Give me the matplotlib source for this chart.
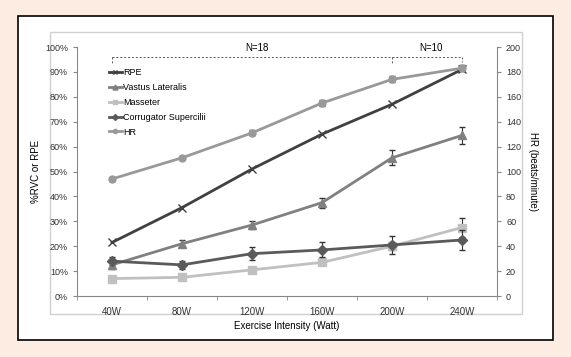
import numpy as np
import matplotlib.pyplot as plt
from matplotlib.patches import Rectangle
from matplotlib.lines import Line2D

plt.rcParams['font.family'] = ['Liberation Sans', 'DejaVu Sans']

# Data
watts = ['40W', '80W', '120W', '160W', '200W', '240W']
rpe = [21.5, 35.5, 51, 65, 77, 91]
vastus = [12.5, 21, 28.5, 37.5, 55.5, 64.5]
vastus_err = [1.5, 1.5, 1.5, 2, 3, 3.5]
masseter = [7, 7.5, 10.5, 13.5, 20, 27.5]
masseter_err = [0.5, 0.5, 0.5, 1, 1.5, 4]
corrugator = [14, 12.5, 17, 18.5, 20.5, 22.5]
corrugator_err = [1.5, 1.5, 2.5, 3, 3.5, 4]
hr = [94, 111, 131, 155, 174, 183]
hr_err = [1.5, 1.5, 2, 2.5, 2.5, 2.5]

x = np.arange(len(watts))

fig = plt.figure(figsize=(5.71, 3.57), dpi=100)
fig.patch.set_facecolor('#fdece2')

# white panel with black frame, and gray chart-area border
W, H = 571, 357
fig.add_artist(Rectangle((18 / W, 1 - 340 / H), 535 / W, 324 / H, transform=fig.transFigure,
                         facecolor='white', edgecolor='black', lw=1.2, zorder=-5))
fig.add_artist(Rectangle((50 / W, 1 - 314 / H), 472 / W, 282 / H, transform=fig.transFigure,
                         facecolor='none', edgecolor='#d0d0d0', lw=1, zorder=-4))

ax = fig.add_axes([77 / W, 1 - 296 / H, 420 / W, 249 / H])
ax.set_facecolor('none')
ax2 = ax.twinx()

lw = 2
styles = [
    ('RPE', '#404040', 'x', 6),
    ('Vastus Lateralis', '#808080', '^', 6),
    ('Masseter', '#c0c0c0', 's', 6),
    ('Corrugator Supercilii', '#5a5a5a', 'D', 5),
    ('HR', '#999999', 'o', 5),
]
eb = dict(ecolor='#333333', elinewidth=0.8, capsize=2)

ax.plot(x, rpe, color=styles[0][1], lw=lw, marker='x', ms=6, mew=1, zorder=5)
ax.errorbar(x, vastus, yerr=vastus_err, color=styles[1][1], lw=lw, marker='^', ms=6, zorder=4, **eb)
ax.errorbar(x, masseter, yerr=masseter_err, color=styles[2][1], lw=lw, marker='s', ms=6, zorder=3, **eb)
ax.errorbar(x, corrugator, yerr=corrugator_err, color=styles[3][1], lw=lw, marker='D', ms=5, zorder=4, **eb)
ax2.errorbar(x, hr, yerr=hr_err, color=styles[4][1], lw=lw, marker='o', ms=5, **eb)

ax.set_xlim(-0.5, 5.5)
ax.set_ylim(0, 100)
ax2.set_ylim(0, 200)
ax.set_yticks(np.arange(0, 101, 10))
ax.set_yticklabels([f'{v}%' for v in range(0, 101, 10)])
ax2.set_yticks(np.arange(0, 201, 20))
ax.set_xticks(x)
ax.set_xticklabels(watts)
ax.set_xticks(np.arange(-0.5, 5.6, 1), minor=True)
ax.tick_params(axis='x', which='major', length=0, pad=8, labelsize=7, colors='#333333')
ax.tick_params(axis='x', which='minor', length=3, color='#888888')
ax.tick_params(axis='y', length=3, color='#888888', labelsize=6.5, labelcolor='#333333')
ax2.tick_params(axis='y', length=3, color='#888888', labelsize=6.5, labelcolor='#333333')

for a in (ax, ax2):
    for s in a.spines.values():
        s.set_visible(False)
ax.spines['left'].set_visible(True)
ax.spines['bottom'].set_visible(True)
ax2.spines['right'].set_visible(True)
for s in (ax.spines['left'], ax.spines['bottom'], ax2.spines['right']):
    s.set_color('#888888')
    s.set_linewidth(0.8)

ax.set_xlabel('Exercise Intensity (Watt)', fontsize=7, labelpad=3)
ax.set_ylabel('%RVC or RPE', fontsize=7, labelpad=3)
ax2.set_ylabel('HR (beats/minute)', fontsize=7, rotation=270, labelpad=12)

# group brackets
bk = dict(color='#555555', lw=0.7, ls=(0, (2, 2)), clip_on=False)
ax.plot([0, 5], [96, 96], **bk)
ax.plot([0, 0], [96, 93], **bk)
ax.plot([4, 4], [96, 93], **bk)
ax.plot([5, 5], [96, 94], **bk)
ax.text(2.07, 99.5, 'N=18', ha='center', va='center', fontsize=7)
ax.text(4.55, 99.5, 'N=10', ha='center', va='center', fontsize=7)

handles = [Line2D([], [], color=c, lw=lw, marker=m, ms=s * 0.6, mew=1) for _, c, m, s in styles]
ax.legend(handles, [n for n, _, _, _ in styles], loc='upper left', bbox_to_anchor=(0.075, 0.915),
          frameon=False, fontsize=6.5, handlelength=1.5, handletextpad=0.1, labelspacing=0.65,
          borderaxespad=0, borderpad=0)

fig.savefig('out.png', dpi=100, facecolor=fig.get_facecolor())
